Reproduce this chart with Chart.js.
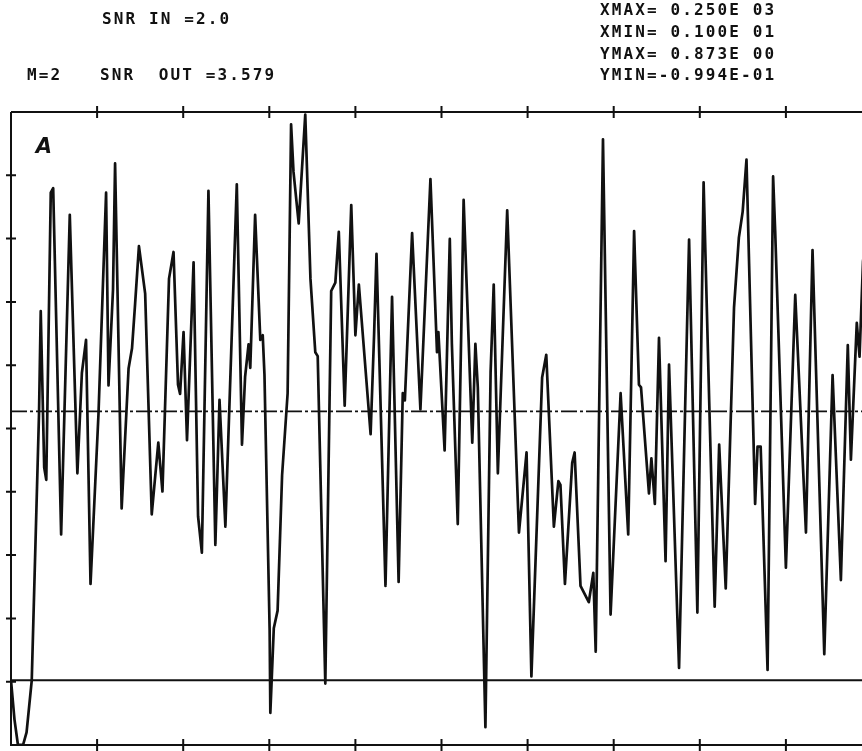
<!DOCTYPE html>
<html>
<head>
<meta charset="UTF-8">
<title>SNR trace A</title>
<script src="https://cdn.jsdelivr.net/npm/chart.js"></script>
<style>
    html, body { margin: 0; padding: 0; background: #fff; overflow: hidden; }
    #wrap { width: 862px; height: 751px; overflow: hidden; position: relative; }
    canvas { position: absolute; left: 0; top: 0; }
</style>
</head>
<body>
<div id="wrap"><canvas id="plot" width="880" height="751"></canvas></div>
<script>
// axis limits printed on the plot
const xMin = 1, xMax = 250;
const yMin = -0.0994, yMax = 0.873;
const meanLevel = 0.413;

// header texts
const headerLeft = ['SNR IN =2.0', 'M=2', 'SNR  OUT =3.579'];
const headerRight = ['XMAX= 0.250E 03', 'XMIN= 0.100E 01', 'YMAX= 0.873E 00', 'YMIN=-0.994E-01'];

// turning points of the trace (sample index, value)
const sampleIdx = [
    1, 2, 3, 4.5, 5.5, 7, 9.1, 9.6, 10.6, 11.2, 12.5, 13.2, 15.5, 18, 20.2, 21.5, 22.7, 24,
    26.3, 28.5, 29.2, 30.5, 31.1, 33, 35, 36, 36.9, 38, 39.8, 41.7, 43.6, 44.8, 46.7, 48,
    49.3, 49.9, 50.9, 51.9, 53.8, 55.1, 56.2, 58.1, 60.1, 61.3, 63, 66.3, 67.8, 68.7, 69.7,
    70.2, 71.6, 73.1, 73.8, 74.3, 75.8, 76, 77, 78.1, 79.4, 81, 82, 82.7, 84.2, 86.1, 87.6,
    89, 89.7, 91.9, 93.6, 94.8, 95.8, 97.5, 99.4, 100.6, 101.6, 105, 106, 106.7, 109.3,
    111.2, 113.1, 114.3, 114.9, 117, 119.4, 122.3, 124.2, 124.6, 126.4, 127.9, 128.5,
    130.2, 131.9, 134.4, 135.3, 136, 138.2, 139.7, 140.6, 141.8, 144.5, 147.9, 150.1,
    151.5, 154.6, 155.8, 158, 159.3, 159.9, 161.2, 163.3, 164, 165.7, 168.1, 169.4, 170.1,
    172.2, 174.4, 177.3, 179.5, 181.2, 182.6, 183.2, 185.5, 186.2, 187.2, 188.4, 190.3,
    191.3, 194.2, 197.1, 199.5, 201.3, 202.9, 204.5, 205.8, 207.7, 210.1, 211.5, 212.6,
    213.7, 216.2, 216.9, 217.8, 219.8, 221.4, 222, 225.1, 227.8, 230.9, 232.8, 236.2,
    238.6, 241, 243, 243.9, 245.6, 246.4, 247.4, 248.2
];
const signal = [
    0.0, -0.06, -0.099, -0.099, -0.08, 0.0, 0.409, 0.567, 0.327, 0.308, 0.749, 0.756, 0.224, 0.715, 0.318, 0.472, 0.523, 0.148,
    0.409, 0.749, 0.453, 0.6, 0.794, 0.264, 0.479, 0.51, 0.579, 0.667, 0.594, 0.255, 0.365, 0.29, 0.617, 0.658,
    0.454, 0.44, 0.535, 0.369, 0.642, 0.252, 0.196, 0.752, 0.208, 0.431, 0.236, 0.762, 0.362, 0.466, 0.516,
    0.48, 0.715, 0.523, 0.53, 0.47, 0.076, -0.05, 0.08, 0.107, 0.315, 0.441, 0.854, 0.781, 0.702, 0.869, 0.617,
    0.504, 0.498, -0.005, 0.598, 0.611, 0.689, 0.422, 0.73, 0.53, 0.608, 0.378, 0.53, 0.655, 0.145,
    0.589, 0.151, 0.441, 0.43, 0.687, 0.416, 0.77, 0.504, 0.535, 0.353, 0.678, 0.517,
    0.24, 0.738, 0.365, 0.517, 0.45, -0.072, 0.473, 0.608, 0.318, 0.722, 0.227, 0.35,
    0.006, 0.465, 0.5, 0.236, 0.306, 0.3, 0.148, 0.334, 0.35, 0.145, 0.12, 0.165, 0.044,
    0.831, 0.101, 0.441, 0.224, 0.69, 0.454, 0.45, 0.287, 0.341, 0.271, 0.526, 0.183,
    0.485, 0.019, 0.677, 0.104, 0.765, 0.432, 0.113, 0.362, 0.141, 0.573, 0.68, 0.72,
    0.8, 0.271, 0.359, 0.359, 0.016, 0.774, 0.69, 0.173, 0.592, 0.227, 0.661, 0.04,
    0.469, 0.154, 0.515, 0.339, 0.549, 0.497, 0.643, 0.68
];

const trace = sampleIdx.map((x, i) => ({ x: x, y: signal[i] }));
const ink = '#111';

// frame, tick marks and the printed texts
const plotterFrame = {
    id: 'plotterFrame',
    afterDatasetsDraw(chart) {
        const ctx = chart.ctx;
        const a = chart.chartArea;
        const xs = chart.scales.x, ys = chart.scales.y;
        ctx.save();
        ctx.strokeStyle = ink;
        ctx.lineWidth = 2;
        ctx.beginPath();
        ctx.moveTo(a.left, a.top);
        ctx.lineTo(a.right, a.top);
        ctx.moveTo(a.left, a.top);
        ctx.lineTo(a.left, a.bottom);
        ctx.lineTo(a.right, a.bottom);
        for (let k = 1; k < 10; k++) {
            const px = xs.getPixelForValue(xMin + k * (xMax - xMin) / 10);
            ctx.moveTo(px, a.top - 6); ctx.lineTo(px, a.top + 6);
            ctx.moveTo(px, a.bottom - 6); ctx.lineTo(px, a.bottom + 6);
            const py = ys.getPixelForValue(yMin + k * (yMax - yMin) / 10);
            ctx.moveTo(a.left - 5, py); ctx.lineTo(a.left + 5, py);
        }
        ctx.stroke();
        ctx.restore();
    },
    afterDraw(chart) {
        const ctx = chart.ctx;
        ctx.save();
        ctx.fillStyle = ink;
        ctx.font = 'bold 16px "DejaVu Sans Mono"';
        ctx.textBaseline = 'middle';
        ctx.textAlign = 'left';
        const pitch = 11.75;
        const put = (s, x, y) => {
            for (let i = 0; i < s.length; i++) ctx.fillText(s[i], x + i * pitch, y);
        };
        put(headerLeft[0], 102, 20);
        put(headerLeft[1], 27, 76);
        put(headerLeft[2], 100, 76);
        headerRight.forEach((s, i) => put(s, 600, 11 + i * 21.7));
        ctx.font = 'bold italic 21px "DejaVu Sans"';
        ctx.textAlign = 'center';
        ctx.fillText('A', 44, 148);
        ctx.restore();
    }
};

new Chart(document.getElementById('plot'), {
    type: 'line',
    data: {
        datasets: [
            {
                data: trace,
                borderColor: ink,
                borderWidth: 2.7,
                borderJoinStyle: 'round',
                pointRadius: 0,
                tension: 0
            },
            {
                data: [{ x: xMin, y: 0 }, { x: xMax, y: 0 }],
                borderColor: ink,
                borderWidth: 2,
                pointRadius: 0
            },
            {
                data: [{ x: xMin, y: meanLevel }, { x: xMax, y: meanLevel }],
                borderColor: ink,
                borderWidth: 1.8,
                borderDash: [16, 3, 3, 3],
                pointRadius: 0
            }
        ]
    },
    options: {
        responsive: false,
        animation: false,
        devicePixelRatio: 1,
        layout: { padding: { left: 11, top: 112, right: 8, bottom: 6 } },
        plugins: { legend: { display: false }, tooltip: { enabled: false } },
        scales: {
            x: { type: 'linear', min: xMin, max: xMax, display: false },
            y: { type: 'linear', min: yMin, max: yMax, display: false }
        }
    },
    plugins: [plotterFrame]
});
</script>
</body>
</html>
